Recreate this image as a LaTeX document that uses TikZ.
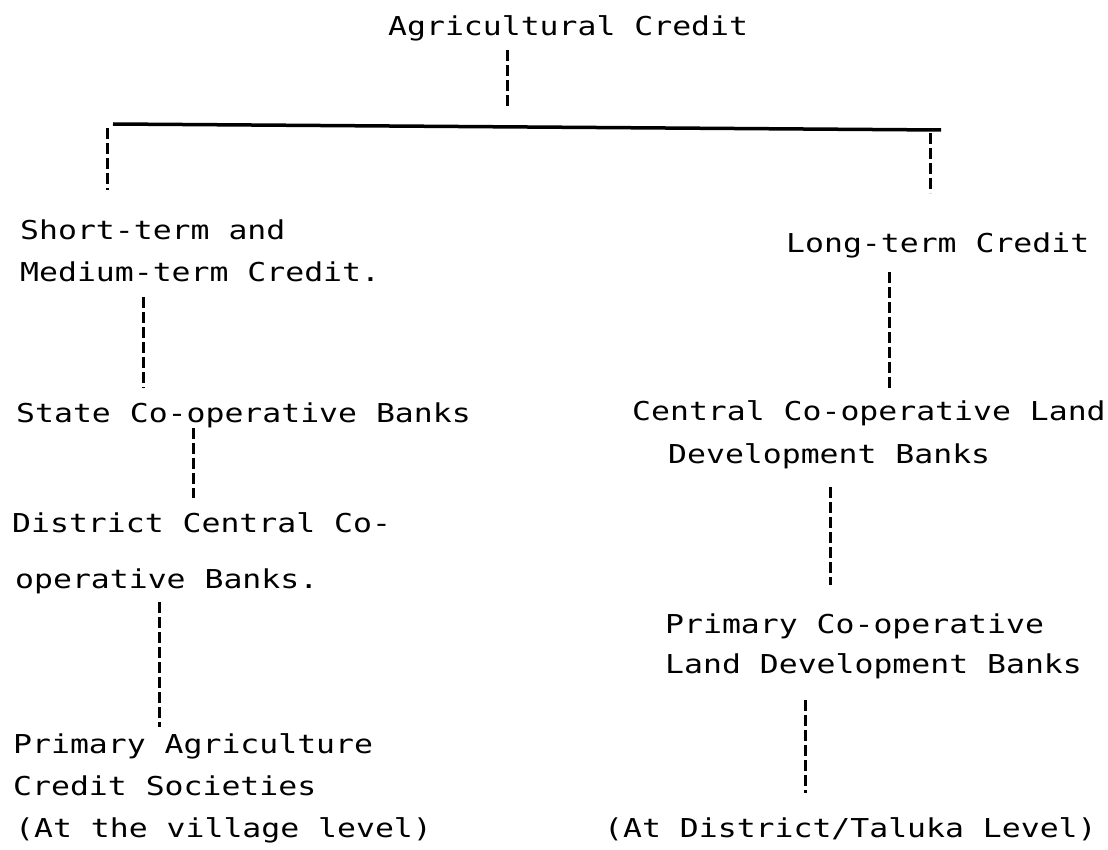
\documentclass[tikz,border=0pt]{standalone}
\usepackage{fontspec}
\newfontfamily\tw[FakeStretch=1.21]{DejaVu Sans Mono}
\begin{document}
\begin{tikzpicture}[x=1pt,y=-1pt,
  lbl/.style={anchor=base west,inner sep=0pt,font=\tw\fontsize{26}{30}\selectfont},
  dl/.style={draw=black,line width=3pt,dash pattern=on 11pt off 4pt},
  barline/.style={draw=black,line width=3.5pt}]
\path[use as bounding box,fill=white] (0,0) rectangle (1108,850);
% texts
\node[lbl] (title) at (388,36) {Agricultural Credit};
\node[lbl] (st1) at (20,240) {Short-term and};
\node[lbl] (st2) at (20,282) {Medium-term Credit.};
\node[lbl] (lt) at (786,253) {Long-term Credit};
\node[lbl] (scb) at (16,422) {State Co-operative Banks};
\node[lbl] (dc1) at (12,532) {District Central Co-};
\node[lbl] (dc2) at (15,588) {operative Banks.};
\node[lbl] (pa1) at (13,753) {Primary Agriculture};
\node[lbl] (pa2) at (13,795) {Credit Societies};
\node[lbl] (pa3) at (15,837) {(At the village level)};
\node[lbl] (cl1) at (632,420) {Central Co-operative Land};
\node[lbl] (cl2) at (668,463) {Development Banks};
\node[lbl] (pl1) at (665,633) {Primary Co-operative};
\node[lbl] (pl2) at (665,673) {Land Development Banks};
\node[lbl] (pl3) at (604,837) {(At District/Taluka Level)};
% connector coordinates
\coordinate (tA) at (507,50);  \coordinate (tB) at (507,108);
\coordinate (barL) at (113,124); \coordinate (barR) at (941,130);
\coordinate (lA) at (107,128); \coordinate (lB) at (107,190);
\coordinate (rA) at (930,133); \coordinate (rB) at (930,193);
\coordinate (sA) at (143,297); \coordinate (sB) at (143,388);
\coordinate (dA) at (193,428); \coordinate (dB) at (193,498);
\coordinate (pA) at (159,602); \coordinate (pB) at (159,727);
\coordinate (cA) at (889,272); \coordinate (cB) at (889,390);
\coordinate (eA) at (830,487); \coordinate (eB) at (830,585);
\coordinate (fA) at (805,700); \coordinate (fB) at (805,793);
% connectors
\draw[dl] (tA) -- (tB);
\draw[barline] (barL) -- (barR);
\draw[dl] (lA) -- (lB);
\draw[dl] (rA) -- (rB);
\draw[dl] (sA) -- (sB);
\draw[dl] (dA) -- (dB);
\draw[dl] (pA) -- (pB);
\draw[dl] (cA) -- (cB);
\draw[dl] (eA) -- (eB);
\draw[dl] (fA) -- (fB);
\end{tikzpicture}
\end{document}
